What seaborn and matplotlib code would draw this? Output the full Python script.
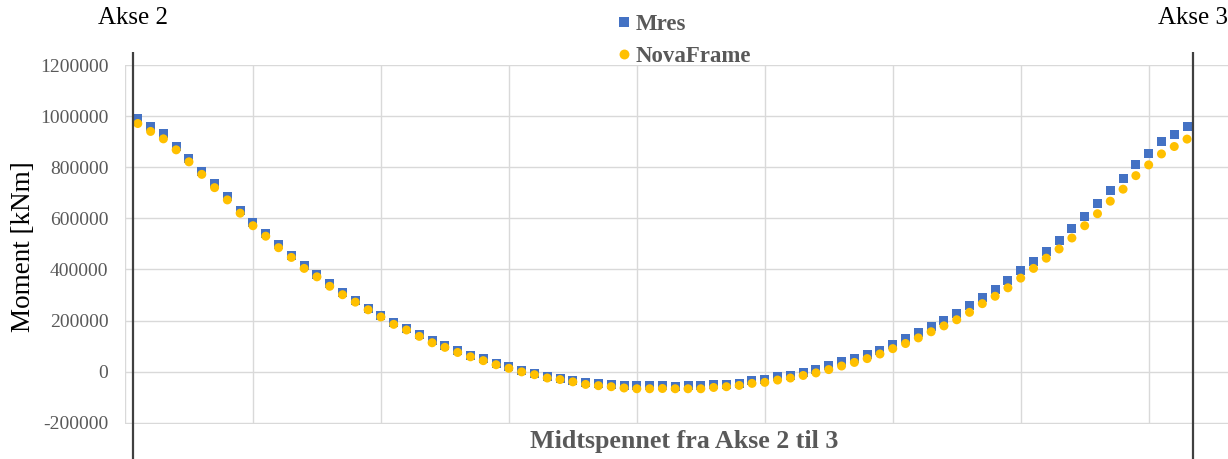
import pandas as pd
import seaborn as sns
import matplotlib.pyplot as plt
import matplotlib.transforms as mtransforms

# moment along the midspan (kNm)
mres = [989000, 958000, 930000, 882000, 833000, 783000, 735000, 684000, 632000, 585000,
        539000, 497000, 454000, 417000, 381000, 346000, 310000, 280000, 248000, 221000,
        193000, 169000, 147000, 122000, 101000, 83000, 65000, 52000, 32000, 19000,
        5000, -8000, -18000, -26000, -33000, -42000, -46000, -50000, -54000, -55000,
        -55000, -55000, -58000, -55000, -55000, -50000, -50000, -45000, -36000, -32000,
        -21000, -14000, -2000, 10000, 24000, 38000, 52000, 67000, 84000, 105000,
        128000, 154000, 176000, 199000, 229000, 258000, 291000, 323000, 356000, 395000,
        432000, 471000, 515000, 561000, 609000, 657000, 708000, 757000, 809000, 853000,
        900000, 929000, 958000]
novaframe = [971000, 940000, 911000, 868000, 821000, 772000, 720000, 672000, 620000, 571000,
             530000, 485000, 447000, 404000, 371000, 334000, 301000, 272000, 242000, 214000,
             185000, 163000, 138000, 113000, 95000, 75000, 58000, 43000, 27000, 13000,
             -1000, -12000, -25000, -31000, -40000, -50000, -55000, -59000, -64000, -67000,
             -67000, -66000, -67000, -67000, -67000, -62000, -59000, -54000, -46000, -42000,
             -33000, -25000, -15000, -5000, 8000, 22000, 36000, 51000, 69000, 90000,
             110000, 132000, 156000, 179000, 203000, 232000, 266000, 295000, 328000, 366000,
             404000, 444000, 480000, 523000, 571000, 618000, 667000, 714000, 767000, 809000,
             852000, 881000, 910000]
snitt = list(range(1, len(mres) + 1))

akse_pos = [0.6, 83.5]
akse_labels = ["Akse 2", "Akse 3"]
y_ticks = [-200000, 0, 200000, 400000, 600000, 800000, 1000000, 1200000]

df = pd.concat([
    pd.DataFrame({"snitt": snitt, "moment": mres, "serie": "Mres"}),
    pd.DataFrame({"snitt": snitt, "moment": novaframe, "serie": "NovaFrame"}),
])

sns.set_style("whitegrid", {"grid.color": "#d9d9d9"})
plt.rcParams["font.family"] = ["Liberation Serif", "DejaVu Serif"]

fig = plt.figure(figsize=(12.28, 4.59), dpi=100)
ax = fig.add_axes([125 / 1228, 1 - 423.5 / 459, 1 - 125 / 1228, (423.5 - 65) / 459])

sns.scatterplot(data=df, x="snitt", y="moment", hue="serie", style="serie",
                palette={"Mres": "#4472c4", "NovaFrame": "#ffc000"},
                markers={"Mres": "s", "NovaFrame": "o"},
                s=42, linewidth=0, ax=ax)

ax.set_xlim(0, 86.2)
ax.set_ylim(-203000, 1200000)
ax.set_yticks(y_ticks)
ax.set_yticklabels([str(v) for v in y_ticks])
ax.set_xticks(range(0, 81, 10))
ax.set_xticklabels([])
ax.grid(True, color="#d9d9d9", linewidth=1)
ax.tick_params(axis="y", length=0, pad=12, labelsize=14, labelcolor="#595959")
ax.tick_params(axis="x", length=0)
for sp in ax.spines.values():
    sp.set_visible(False)

ax.set_xlabel("")
ax.set_ylabel("Moment [kNm]", fontsize=19.5, color="black")
ax.yaxis.set_label_coords(-0.081, 0.492)
ax.text(0.507, -0.051, "Midtspennet fra Akse 2 til 3", transform=ax.transAxes,
        ha="center", va="center", fontsize=18.7, fontweight="bold", color="#595959")

# support lines with labels above
trans = mtransforms.blended_transform_factory(ax.transData, ax.transAxes)
ax.vlines(akse_pos, -0.102, 1.036, transform=trans, color="#404040",
          linewidth=1.6, clip_on=False, zorder=5)
for xp, lab in zip(akse_pos, akse_labels):
    ax.text(xp, 1.13, lab, transform=trans, ha="center", va="center",
            fontsize=18, color="black", clip_on=False)

leg = ax.legend(loc="upper left", bbox_to_anchor=(606 / 1228, 1 - 3 / 459),
                bbox_transform=fig.transFigure, frameon=False, title=None,
                borderpad=0, labelspacing=0.45, handlelength=0.6, handletextpad=0.2,
                markerscale=1.1, prop={"weight": "bold", "size": 16.5})
for t in leg.get_texts():
    t.set_color("#595959")

fig.savefig("out.png", dpi=100)
